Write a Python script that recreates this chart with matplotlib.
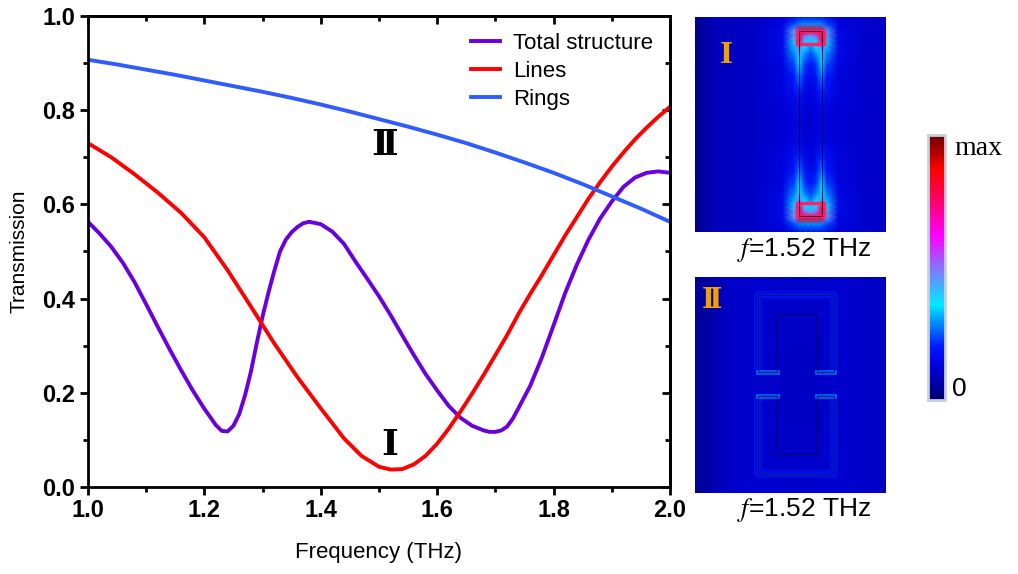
import matplotlib.pyplot as plt
import matplotlib as mpl
import numpy as np
from matplotlib.colors import LinearSegmentedColormap
from matplotlib.patches import Polygon, Rectangle
from matplotlib.ticker import MultipleLocator

plt.rcParams['font.family'] = ['Liberation Sans', 'DejaVu Sans']
plt.rcParams['mathtext.fontset'] = 'stix'

# transmission spectra
freq_total = [1.00, 1.02, 1.04, 1.06, 1.08, 1.10, 1.12, 1.14, 1.16, 1.18, 1.20, 1.22, 1.23,
              1.24, 1.25, 1.26, 1.27, 1.28, 1.29, 1.30, 1.31, 1.32, 1.33, 1.34, 1.35, 1.36,
              1.37, 1.38, 1.40, 1.42, 1.44, 1.46, 1.48, 1.50, 1.52, 1.54, 1.56, 1.58, 1.60,
              1.62, 1.64, 1.66, 1.68, 1.69, 1.70, 1.71, 1.72, 1.73, 1.74, 1.76, 1.78, 1.80,
              1.82, 1.84, 1.86, 1.88, 1.90, 1.92, 1.94, 1.96, 1.98, 2.00]
trans_total = [0.563, 0.538, 0.510, 0.476, 0.435, 0.388, 0.340, 0.293, 0.248, 0.205, 0.166,
               0.131, 0.119, 0.118, 0.130, 0.155, 0.195, 0.245, 0.305, 0.362, 0.412, 0.458,
               0.500, 0.525, 0.541, 0.552, 0.560, 0.563, 0.558, 0.542, 0.516, 0.478, 0.442,
               0.405, 0.365, 0.322, 0.280, 0.240, 0.205, 0.172, 0.147, 0.130, 0.120, 0.117,
               0.117, 0.120, 0.128, 0.145, 0.168, 0.215, 0.275, 0.343, 0.412, 0.472, 0.525,
               0.570, 0.606, 0.637, 0.657, 0.667, 0.670, 0.667]

freq_lines = [1.00, 1.04, 1.08, 1.12, 1.16, 1.20, 1.24, 1.28, 1.32, 1.36, 1.40, 1.44, 1.47,
              1.50, 1.52, 1.54, 1.56, 1.58, 1.60, 1.62, 1.64, 1.66, 1.68, 1.70, 1.72, 1.74,
              1.76, 1.78, 1.80, 1.82, 1.84, 1.86, 1.88, 1.90, 1.92, 1.94, 1.96, 1.98, 2.00]
trans_lines = [0.730, 0.700, 0.664, 0.625, 0.582, 0.530, 0.460, 0.383, 0.305, 0.233, 0.167,
               0.103, 0.066, 0.043, 0.037, 0.038, 0.048, 0.066, 0.092, 0.124, 0.160, 0.198,
               0.238, 0.280, 0.322, 0.368, 0.410, 0.450, 0.492, 0.534, 0.573, 0.612, 0.647,
               0.680, 0.710, 0.738, 0.763, 0.786, 0.807]

freq_rings = [1.00, 1.05, 1.10, 1.15, 1.20, 1.25, 1.30, 1.35, 1.40, 1.45, 1.50, 1.55, 1.60,
              1.65, 1.70, 1.75, 1.80, 1.85, 1.90, 1.95, 2.00]
trans_rings = [0.907, 0.897, 0.886, 0.875, 0.863, 0.851, 0.839, 0.826, 0.812, 0.797, 0.781,
               0.765, 0.748, 0.730, 0.710, 0.689, 0.667, 0.643, 0.617, 0.591, 0.563]

# field map I (normalised 0..1), nodes on a non-uniform grid, top half
field1_x = [0.00, 0.04, 0.12, 0.30, 0.46, 0.52, 0.545, 0.575, 0.605, 0.635, 0.665, 0.69,
            0.75, 0.88, 1.00]
field1_y_top = [0.00, 0.035, 0.065, 0.09, 0.115, 0.14, 0.17, 0.22, 0.28, 0.35, 0.42, 0.50]
field1_top = [
    [.03, .06, .09, .10, .12, .15, .17, .18, .18, .18, .17, .15, .12, .11, .10],
    [.03, .06, .09, .10, .14, .24, .28, .29, .29, .29, .28, .24, .14, .11, .10],
    [.03, .06, .09, .10, .15, .45, .80, .85, .85, .85, .80, .45, .15, .11, .10],
    [.03, .06, .09, .10, .15, .45, .80, .52, .45, .52, .80, .45, .15, .11, .10],
    [.03, .06, .09, .10, .15, .40, .78, .40, .34, .40, .78, .40, .15, .11, .10],
    [.03, .06, .09, .10, .15, .33, .50, .36, .29, .36, .50, .33, .15, .11, .10],
    [.03, .06, .09, .10, .15, .29, .40, .30, .24, .30, .40, .29, .15, .11, .10],
    [.03, .06, .09, .10, .14, .24, .35, .23, .19, .23, .35, .24, .14, .11, .10],
    [.03, .06, .09, .10, .13, .20, .28, .19, .16, .19, .28, .20, .13, .11, .10],
    [.03, .06, .09, .10, .13, .17, .21, .15, .13, .15, .21, .17, .13, .11, .10],
    [.03, .06, .09, .10, .12, .14, .16, .13, .12, .13, .16, .14, .12, .11, .10],
    [.03, .06, .09, .10, .12, .13, .14, .12, .11, .12, .14, .13, .12, .11, .10],
]
# field map II background (coarse)
field_2 = [
    [.05, .10, .11, .11, .11, .11, .11, .11, .11, .10],
    [.05, .10, .11, .11, .10, .10, .10, .11, .11, .10],
    [.05, .10, .11, .11, .10, .10, .10, .11, .11, .10],
    [.05, .10, .11, .11, .10, .10, .10, .11, .11, .10],
    [.05, .10, .11, .11, .11, .11, .11, .11, .11, .10],
]

# geometry of the unit cells (image coords, y downward)
bar_x = [0.545, 0.665, 0.665, 0.545]
bar_y = [0.065, 0.065, 0.925, 0.925]
ring_top_x = [0.33, 0.33, 0.73, 0.73, 0.64, 0.64, 0.43, 0.43]
ring_top_y = [0.44, 0.083, 0.083, 0.44, 0.44, 0.17, 0.17, 0.44]
ring_bot_x = [0.33, 0.33, 0.73, 0.73, 0.64, 0.64, 0.43, 0.43]
ring_bot_y = [0.55, 0.91, 0.91, 0.55, 0.55, 0.82, 0.82, 0.55]

cmap = LinearSegmentedColormap.from_list('field', [
    (0.00, '#00006e'), (0.12, '#0000d8'), (0.20, '#0018ff'), (0.36, '#00eaff'),
    (0.47, '#6a8cff'), (0.62, '#ff00ff'), (0.76, '#ff0060'), (0.87, '#ff0000'),
    (1.00, '#6a0000')])

fig = plt.figure(figsize=(10.18, 5.74), dpi=100)

# ---- main spectrum plot
ax = fig.add_axes([0.0864, 0.1516, 0.5717, 0.8206])
ax.plot(freq_total, trans_total, color='#6a00e0', lw=2.8, label='Total structure')
ax.plot(freq_lines, trans_lines, color='#ff0000', lw=2.8, label='Lines')
ax.plot(freq_rings, trans_rings, color='#2e5cff', lw=2.8, label='Rings')
ax.set_xlim(1.0, 2.0)
ax.set_ylim(0.0, 1.0)
ax.xaxis.set_major_locator(MultipleLocator(0.2))
ax.xaxis.set_minor_locator(MultipleLocator(0.1))
ax.yaxis.set_major_locator(MultipleLocator(0.2))
ax.yaxis.set_minor_locator(MultipleLocator(0.1))
ax.tick_params(which='major', direction='out', length=6, width=2, labelsize=17, pad=3)
ax.tick_params(which='minor', direction='out', length=3.5, width=2)
for lab in ax.get_xticklabels() + ax.get_yticklabels():
    lab.set_fontweight('bold')
for sp in ax.spines.values():
    sp.set_linewidth(2)

top = ax.secondary_xaxis('top')
top.xaxis.set_major_locator(MultipleLocator(0.2))
top.xaxis.set_minor_locator(MultipleLocator(0.1))
top.tick_params(which='major', direction='in', length=6, width=2, labeltop=False)
top.tick_params(which='minor', direction='in', length=3.5, width=2)
top.spines['top'].set_linewidth(2)
right = ax.secondary_yaxis('right')
right.yaxis.set_major_locator(MultipleLocator(0.2))
right.yaxis.set_minor_locator(MultipleLocator(0.1))
right.tick_params(which='major', direction='in', length=6, width=2, labelright=False)
right.tick_params(which='minor', direction='in', length=3.5, width=2)
right.spines['right'].set_linewidth(2)

ax.set_xlabel('Frequency (THz)', fontsize=16, labelpad=14)
ax.set_ylabel('Transmission', fontsize=15, labelpad=10)
ax.legend(loc='upper right', frameon=False, fontsize=16, handlelength=1.3,
          handletextpad=0.6, labelspacing=0.32, borderaxespad=0.45, borderpad=0.3)

ax.text(1.51, 0.726, '\u2161', fontsize=26, fontweight='bold', ha='center', va='center',
        family=['DejaVu Serif', 'Noto Sans CJK SC'])
ax.text(1.519, 0.089, '\u2160', fontsize=26, fontweight='bold', ha='center', va='center',
        family=['DejaVu Serif', 'Noto Sans CJK SC'])

# ---- field map I
ax1 = fig.add_axes([0.683, 0.596, 0.187, 0.375])
f1_y = field1_y_top + [1 - v for v in field1_y_top[-2::-1]]
f1_c = field1_top + field1_top[-2::-1]
ax1.pcolormesh(field1_x, f1_y, f1_c, cmap=cmap, vmin=0, vmax=1, shading='gouraud')
for y0 in (bar_y[0], bar_y[2] - 0.06):
    ax1.add_patch(Rectangle((bar_x[0] - 0.01, y0), bar_x[1] - bar_x[0] + 0.02, 0.06,
                            fill=False, ec='#ff2070', lw=2.5))
ax1.add_patch(Polygon(list(zip(bar_x, bar_y)), closed=True, fill=False, ec='#200030',
                      lw=0.8, alpha=0.8, zorder=3))
ax1.text(0.16, 0.18, '\u2160', color='#f2a000', fontsize=20, fontweight='bold',
         ha='center', va='center', family=['DejaVu Serif', 'Noto Sans CJK SC'])
ax1.set_xlim(0, 1)
ax1.set_ylim(1, 0)
ax1.axis('off')

# ---- field map II
ax2 = fig.add_axes([0.683, 0.141, 0.187, 0.376])
ax2.imshow(field_2, cmap=cmap, vmin=0, vmax=1, extent=[0, 1, 1, 0], aspect='auto',
           interpolation='bicubic')
for xs, ys in [(ring_top_x, ring_top_y), (ring_bot_x, ring_bot_y)]:
    # glow along the outer rim and at the gap edges
    ax2.plot(xs[:4], ys[:4], color=cmap(0.21), lw=6, alpha=0.4, solid_capstyle='butt')
    ax2.plot(xs[:4], ys[:4], color=cmap(0.21), lw=2, alpha=0.8)
    ax2.plot(xs[3:5], ys[3:5], color=cmap(0.27), lw=3.5, alpha=0.8)
    ax2.plot([xs[7], xs[0]], [ys[7], ys[0]], color=cmap(0.27), lw=3.5, alpha=0.8)
    ax2.add_patch(Polygon(list(zip(xs, ys)), closed=True, fill=False, ec='#000030',
                          lw=0.9, alpha=0.6, zorder=3))
ax2.text(0.09, 0.11, '\u2161', color='#f2a000', fontsize=20, fontweight='bold',
         ha='center', va='center', family=['DejaVu Serif', 'Noto Sans CJK SC'])
ax2.set_xlim(0, 1)
ax2.set_ylim(1, 0)
ax2.axis('off')

fig.text(0.79, 0.564, r'$f$=1.52 THz', fontsize=19, ha='center', va='center')
fig.text(0.79, 0.111, r'$f$=1.52 THz', fontsize=19, ha='center', va='center')

# ---- colour bar
cax = fig.add_axes([0.912, 0.303, 0.0167, 0.462])
cb = fig.colorbar(mpl.cm.ScalarMappable(norm=mpl.colors.Normalize(0, 1), cmap=cmap),
                  cax=cax, ticks=[])
cb.outline.set_edgecolor('#c8d0e0')
cb.outline.set_linewidth(2)
fig.text(0.937, 0.742, 'max', fontsize=20, family='Liberation Serif', va='center')
fig.text(0.935, 0.322, '0', fontsize=19, va='center')

plt.savefig('out.png')
